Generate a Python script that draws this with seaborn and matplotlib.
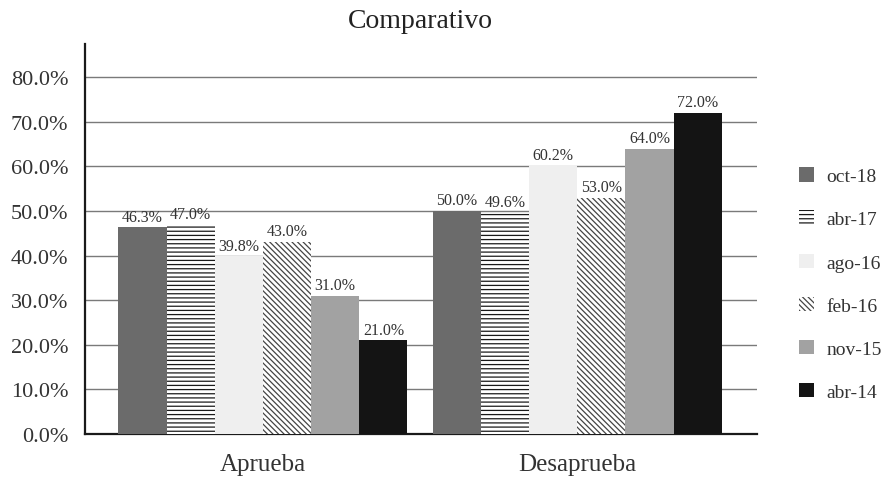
import matplotlib
matplotlib.use("Agg")
import matplotlib.pyplot as plt
import matplotlib.ticker as mticker
import seaborn as sns
import pandas as pd

# Survey results by period (percent)
categories = ["Aprueba", "Desaprueba"]
periods = ["oct-18", "abr-17", "ago-16", "feb-16", "nov-15", "abr-14"]
aprueba = [46.3, 47.0, 39.8, 43.0, 31.0, 21.0]
desaprueba = [50.0, 49.6, 60.2, 53.0, 64.0, 72.0]
y_ticks = [0, 10, 20, 30, 40, 50, 60, 70, 80]

# Per-period styling: fill colour, hatch, hatch colour
fills = ["#6b6b6b", "#ffffff", "#efefef", "#ffffff", "#a2a2a2", "#141414"]
hatches = ["", "----", "", "\\\\\\\\\\\\", "", ""]
hatch_colors = ["#6b6b6b", "#1a1a1a", "#efefef", "#444444", "#a2a2a2", "#141414"]

df = pd.DataFrame({
    "categoria": [c for c in categories for _ in periods],
    "periodo": periods * len(categories),
    "valor": aprueba + desaprueba,
})

sns.set_style("white")
plt.rcParams["font.family"] = ["Liberation Serif", "DejaVu Serif"]
plt.rcParams["hatch.linewidth"] = 0.9

fig = plt.figure(figsize=(8.86, 4.85), dpi=100)
ax = fig.add_axes([0.096, 0.103, 0.758, 0.804])

sns.barplot(
    data=df, x="categoria", y="valor", hue="periodo",
    order=categories, hue_order=periods,
    palette=fills, width=0.92, gap=0, dodge=True,
    linewidth=0, saturation=1, legend=False, ax=ax, zorder=3,
)

for cont, fc, h, hc in zip(ax.containers, fills, hatches, hatch_colors):
    for bar in cont:
        bar.set_facecolor(fc)
        bar.set_hatch(h)
        bar.set_edgecolor(hc)
        bar.set_linewidth(0)
    ax.bar_label(cont, fmt="%.1f%%", padding=2, fontsize=11.5, color="#333333")

ax.set_xlim(-0.566, 1.571)
ax.set_ylim(0, 87.4)
ax.set_yticks(y_ticks)
ax.yaxis.set_major_formatter(mticker.FuncFormatter(lambda v, _: f"{v:.1f}%"))
ax.tick_params(axis="y", labelsize=16, length=0, pad=12, colors="#333333")
ax.tick_params(axis="x", labelsize=18, length=0, pad=14, colors="#333333")
ax.set_xlabel("")
ax.set_ylabel("")

ax.yaxis.grid(True, color="#7a7a7a", linewidth=1.0, zorder=0)
ax.set_axisbelow(True)
for side in ["top", "right"]:
    ax.spines[side].set_visible(False)
for side in ["left", "bottom"]:
    ax.spines[side].set_color("#1a1a1a")
    ax.spines[side].set_linewidth(1.6)

ax.set_title("Comparativo", fontsize=20, color="#222222", pad=12)

handles = [
    plt.Rectangle((0, 0), 1, 1, facecolor=fc, hatch=h, edgecolor=hc, linewidth=0)
    for fc, h, hc in zip(fills, hatches, hatch_colors)
]
fig.legend(
    handles, periods, loc="center left", bbox_to_anchor=(0.902, 0.412),
    frameon=False, fontsize=14, handlelength=0.75, handleheight=0.75,
    handletextpad=0.65, labelspacing=1.3, borderpad=0, borderaxespad=0,
    labelcolor="#333333",
)

fig.savefig("out.png", dpi=100, facecolor="white")
